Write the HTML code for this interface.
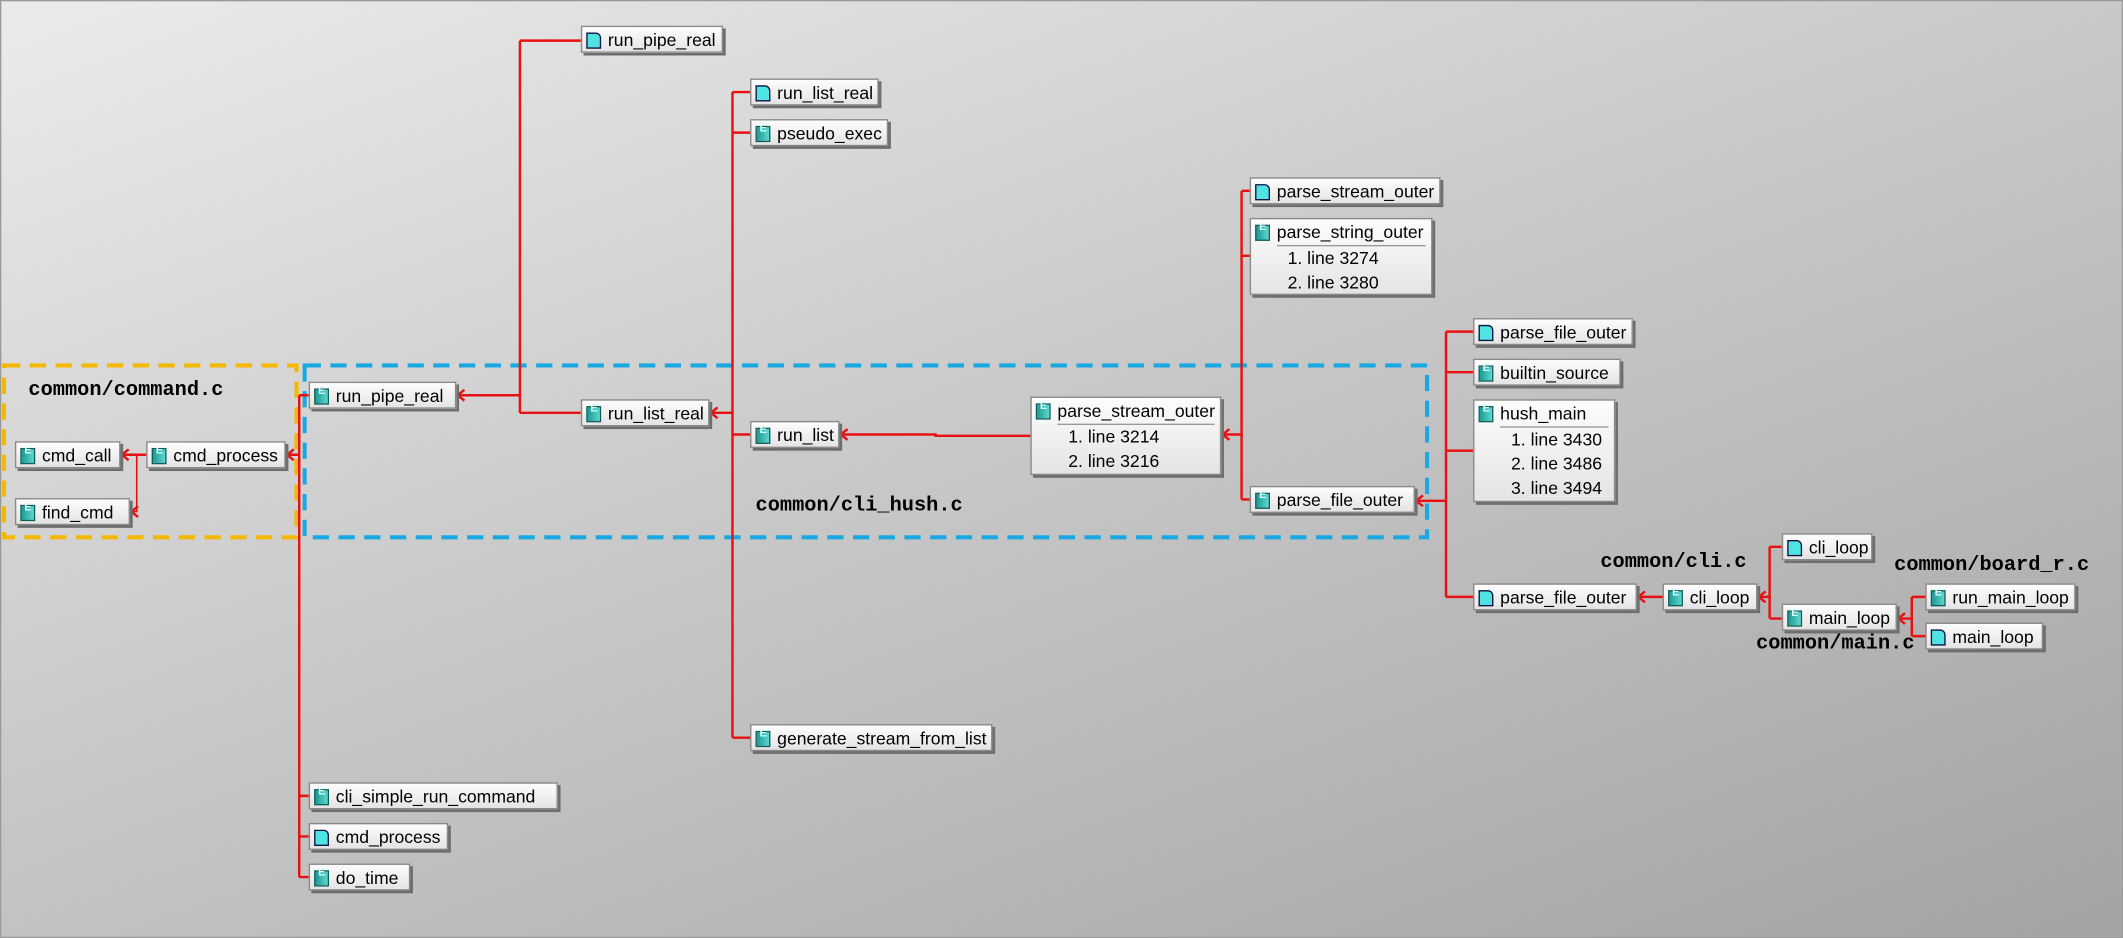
<!DOCTYPE html>
<html><head><meta charset="utf-8"><style>
html,body{margin:0;padding:0;overflow:hidden}
body{width:2123px;height:938px}
#s{position:absolute;left:0;top:0;width:1568px;height:693px;transform:scale(1.35395,1.3535);transform-origin:0 0;
background:linear-gradient(160deg,#ebebeb 0%,#c9c9c9 45%,#a3a3a3 100%);border:1px solid #999;box-sizing:border-box;overflow:hidden}
.b{position:absolute;height:20px;background:linear-gradient(#fdfdfd,#e4e4e4);border:1px solid #8a8a8a;box-shadow:2px 2px 0 #6e6e6e;
font:13px "Liberation Sans",sans-serif;color:#000;line-height:20px;padding:0 4px 0 19px;white-space:nowrap;box-sizing:border-box}
.b i{position:absolute;left:3px;top:4px;width:11px;height:12px;background:linear-gradient(90deg,#1a9b94,#5fd8cf);border:1px solid #0f5e5a;box-sizing:border-box}
.b i:after{content:"E";position:absolute;left:2px;top:-4px;font:bold 8px "Liberation Sans",sans-serif;color:#d8fffb}
.b i.f{background:#4fe4e4;border-color:#114;border-radius:0 4px 0 0}
.b i.f:after{content:""}
.m{height:auto;line-height:18px;padding-bottom:1px}
.m .t{border-bottom:1px solid #999;display:block;line-height:19px}
.m .l{display:block;padding-left:8px}
.lab{position:absolute;font:bold 15px "Liberation Mono",monospace;color:#000;white-space:nowrap}
svg{position:absolute;left:0;top:0}
</style></head><body><div id="s">
<svg width="1568" height="693">
<g fill="none" stroke="#f5b800" stroke-width="3" stroke-dasharray="12,7">
<rect x="2" y="269" width="216" height="127"/></g>
<g fill="none" stroke="#19a8e2" stroke-width="3" stroke-dasharray="12,7">
<rect x="224" y="269" width="829" height="127"/></g>
<g stroke="#e81010" stroke-width="1.8" fill="none">
<path d="M383,29V304M383,29H428M383,304H428M383,291H337"/>
<path d="M540,67V544M540,67H553M540,97H553M540,320H553M540,544H553M540,304H524"/>
<path d="M760,321H690V320H620"/>
<path d="M916,140V368M916,140H922M916,188H922M916,368H922M916,320H902"/>
<path d="M1067,244V440M1067,244H1087M1067,274H1087M1067,332H1087M1067,440H1087M1067,369H1045"/>
<path d="M1227,440H1209"/>
<path d="M1306,403V456M1306,403H1315M1306,456H1315M1306,440H1298"/>
<path d="M1411,440V469M1411,440H1421M1411,469H1421M1411,456H1401"/>
<path d="M220,291V647M220,291H227M220,587H227M220,617H227M220,647H227M220,335H211"/>
<path d="M107,335H89"/>
<path d="M100,335V377H96" stroke-width="1.2"/>
<path d="M342,287L337,291L342,295M529,300L524,304L529,308M625,316L620,320L625,324M907,316L902,320L907,324M1050,365L1045,369L1050,373M1214,436L1209,440L1214,444M1303,436L1298,440L1303,444M1406,452L1401,456L1406,460M216,331L211,335L216,339M94,331L89,335L94,339M101,373L96,377L101,381"/>
</g></svg>

<div class="lab" style="left:20px;top:279px">common/command.c</div>
<div class="lab" style="left:557px;top:364px">common/cli_hush.c</div>
<div class="lab" style="left:1181px;top:406px">common/cli.c</div>
<div class="lab" style="left:1398px;top:408px">common/board_r.c</div>
<div class="lab" style="left:1296px;top:466px">common/main.c</div>

<div class="b" style="left:428px;top:18px;width:105px"><i class="f"></i>run_pipe_real</div>
<div class="b" style="left:553px;top:57px;width:95px"><i class="f"></i>run_list_real</div>
<div class="b" style="left:553px;top:87px;width:102px"><i></i>pseudo_exec</div>
<div class="b" style="left:922px;top:130px;width:141px"><i class="f"></i>parse_stream_outer</div>
<div class="b m" style="left:922px;top:160px;width:135px;height:57px"><i></i><span class="t">parse_string_outer</span><span class="l">1. line 3274</span><span class="l">2. line 3280</span></div>
<div class="b" style="left:1087px;top:234px;width:118px"><i class="f"></i>parse_file_outer</div>
<div class="b" style="left:1087px;top:264px;width:109px"><i></i>builtin_source</div>
<div class="b m" style="left:1087px;top:294px;width:105px;height:76px"><i></i><span class="t">hush_main</span><span class="l" style="padding-left:8px">1. line 3430</span><span class="l" style="padding-left:8px">2. line 3486</span><span class="l" style="padding-left:8px">3. line 3494</span></div>
<div class="b" style="left:227px;top:281px;width:109px"><i></i>run_pipe_real</div>
<div class="b" style="left:428px;top:294px;width:95px"><i></i>run_list_real</div>
<div class="b" style="left:553px;top:310px;width:66px"><i></i>run_list</div>
<div class="b m" style="left:760px;top:292px;width:141px;height:58px"><i></i><span class="t">parse_stream_outer</span><span class="l" style="padding-left:8px">1. line 3214</span><span class="l" style="padding-left:8px">2. line 3216</span></div>
<div class="b" style="left:922px;top:358px;width:122px"><i></i>parse_file_outer</div>
<div class="b" style="left:10px;top:325px;width:78px"><i></i>cmd_call</div>
<div class="b" style="left:107px;top:325px;width:103px"><i></i>cmd_process</div>
<div class="b" style="left:10px;top:367px;width:85px"><i></i>find_cmd</div>
<div class="b" style="left:1087px;top:430px;width:121px"><i class="f"></i>parse_file_outer</div>
<div class="b" style="left:1227px;top:430px;width:70px"><i></i>cli_loop</div>
<div class="b" style="left:1315px;top:393px;width:67px"><i class="f"></i>cli_loop</div>
<div class="b" style="left:1315px;top:445px;width:85px"><i></i>main_loop</div>
<div class="b" style="left:1421px;top:430px;width:111px"><i></i>run_main_loop</div>
<div class="b" style="left:1421px;top:459px;width:87px"><i class="f"></i>main_loop</div>
<div class="b" style="left:553px;top:534px;width:179px"><i></i>generate_stream_from_list</div>
<div class="b" style="left:227px;top:577px;width:184px"><i></i>cli_simple_run_command</div>
<div class="b" style="left:227px;top:607px;width:103px"><i class="f"></i>cmd_process</div>
<div class="b" style="left:227px;top:637px;width:75px"><i></i>do_time</div>
</div></body></html>
